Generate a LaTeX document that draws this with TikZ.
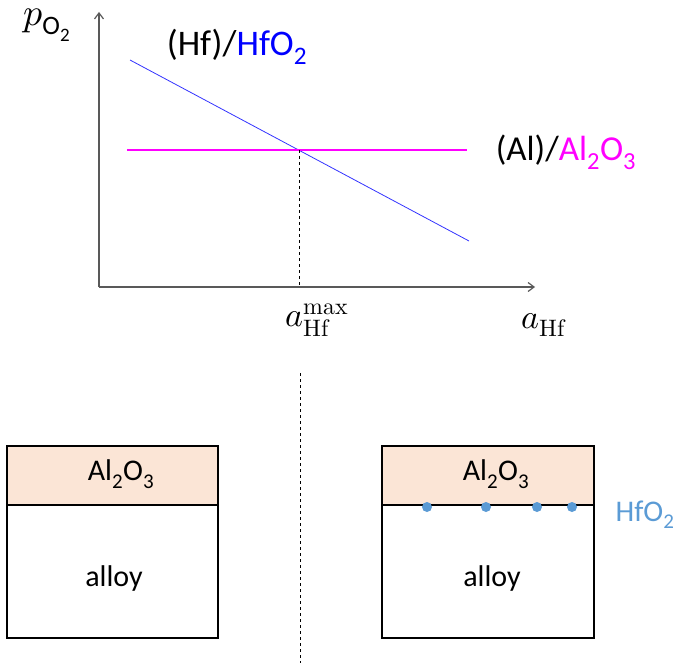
\documentclass[tikz,border=0pt]{standalone}
\usepackage{fontspec}
\usepackage{unicode-math}
\setmainfont{Carlito}
\setmathfont{Latin Modern Math}
\usetikzlibrary{arrows.meta}

\definecolor{oxfill}{HTML}{FBE5D6}
\definecolor{hfblue}{HTML}{5B9BD5}
\definecolor{axisgray}{HTML}{595959}
\definecolor{alpink}{RGB}{255,0,255}
\definecolor{lineblue}{RGB}{51,51,255}
\definecolor{hftext}{RGB}{0,0,255}

\tikzset{
  axis/.style={draw=axisgray, line width=1.2pt, -{Straight Barb[length=6pt, width=9pt]}},
  lbl/.style={inner sep=0pt, font=\fontsize{30}{36}\selectfont},
  biglbl/.style={inner sep=0pt, font=\fontsize{36}{42}\selectfont},
  mathlbl/.style={inner sep=0pt, font=\fontsize{34}{40}\selectfont},
  layer/.style={draw=black, line width=1.6pt},
  hfdot/.style={circle, fill=hfblue, inner sep=0pt, minimum size=10pt}
}

\begin{document}
\begin{tikzpicture}[x=1pt, y=-1pt]
\useasboundingbox (0,0) rectangle (680,663);
%
% --- Axes ---
\coordinate (o) at (99,287);
\coordinate (ytip) at (99,12);
\coordinate (xtip) at (535,287);
\draw[axis] (o)--(ytip);
\draw[axis] (o)--(xtip);
\node[mathlbl, font=\fontsize{38}{44}\selectfont] (py) at (47,25) {$p_{\text{O}_{\text{2}}}$};
\node[mathlbl] (ax) at (544,325) {$a_{\symup{Hf}}$};
%
% --- Equilibrium lines ---
\coordinate (hf1) at (130,60);
\coordinate (hf2) at (469,241);
\coordinate (al1) at (127,150);
\coordinate (al2) at (467,150);
\coordinate (cross) at (299,150);
\coordinate (cfoot) at (299,287);
\draw[lineblue, line width=0.8pt] (hf1)--(hf2);
\draw[alpink, line width=1.2pt] (al1)--(al2);
\draw[dashed, line width=0.8pt] (cross)--(cfoot);
\node[biglbl] (hflbl) at (237,47) {(Hf)/\textcolor{hftext}{HfO\textsubscript{2}}};
\node[biglbl, font=\fontsize{35}{42}\selectfont] (allbl) at (566,152) {(Al)/\textcolor{alpink}{Al\textsubscript{2}O\textsubscript{3}}};
\node[mathlbl] (amax) at (317,320) {$a_{\symup{Hf}}^{\symup{max}}$};
%
% --- Divider ---
\coordinate (d1) at (300,373);
\coordinate (d2) at (300,663);
\draw[dashed, line width=0.8pt] (d1)--(d2);
%
% --- Left sample ---
\draw[layer, fill=oxfill] (7,446) rectangle (218,505);
\draw[layer] (7,505) rectangle (218,638);
\node[lbl] (oxl) at (121,474) {Al\textsubscript{2}O\textsubscript{3}};
\node[lbl] (alloyl) at (114,578) {alloy};
%
% --- Right sample ---
\draw[layer, fill=oxfill] (382,446) rectangle (594,505);
\draw[layer] (382,505) rectangle (594,638);
\node[lbl] (oxr) at (496,474) {Al\textsubscript{2}O\textsubscript{3}};
\node[lbl] (alloyr) at (492,578) {alloy};
\foreach \x [count=\i] in {427,486,537,572}
  \node[hfdot] (p\i) at (\x,507) {};
\node[lbl, text=hfblue] (hflbr) at (645,515) {HfO\textsubscript{2}};
%
\end{tikzpicture}
\end{document}
